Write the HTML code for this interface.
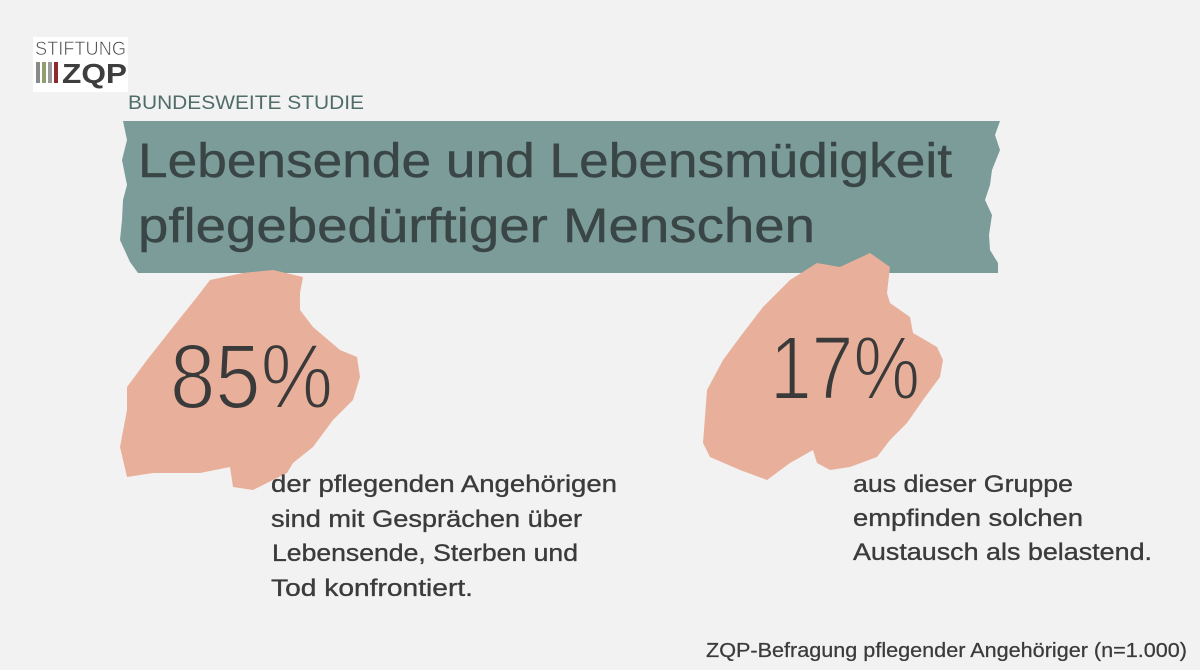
<!DOCTYPE html>
<html><head><meta charset="utf-8">
<style>
html,body{margin:0;padding:0;background:#f2f2f2;}
svg{display:block;}
text{font-family:"Liberation Sans",sans-serif;}
</style></head>
<body>
<svg width="1200" height="670" viewBox="0 0 1200 670" xmlns="http://www.w3.org/2000/svg">
<rect width="1200" height="670" fill="#f2f2f2"/>
<!-- logo -->
<rect x="33" y="37" width="95" height="55" fill="#ffffff"/>
<text x="35" y="55" font-size="19" fill="#4a4a4a" textLength="91" lengthAdjust="spacingAndGlyphs" stroke="#fff" stroke-width="0.6">STIFTUNG</text>
<rect x="36" y="62" width="4" height="21" fill="#8a8a8a"/>
<rect x="42" y="62" width="4" height="21" fill="#8fa070"/>
<rect x="48" y="62" width="4" height="21" fill="#9b9b9b"/>
<rect x="54" y="62" width="4" height="21" fill="#8c2a2e"/>
<text x="62" y="83" font-size="28" font-weight="bold" fill="#3e3e3e" textLength="65" lengthAdjust="spacingAndGlyphs">ZQP</text>
<!-- subtitle -->
<text x="128" y="109" font-size="19" fill="#4f6c69" textLength="236" lengthAdjust="spacingAndGlyphs">BUNDESWEITE STUDIE</text>
<!-- banner -->
<path d="M123,121 L1000,121 L995,135 L1000,150 L992,170 L990,185 L985,200 L992,215 L989,235 L990,250 L998,263 L998,273 L138,273 L130,262 L120,240 L122,220 L123,200 L127,185 L122,160 L127,140 Z" fill="#7b9c99"/>
<text x="138" y="177" font-size="48" fill="#3a4646" stroke="#3a4646" stroke-width="0.4" textLength="814" lengthAdjust="spacingAndGlyphs">Lebensende und Lebensmüdigkeit</text>
<text x="138" y="242" font-size="48" fill="#3a4646" stroke="#3a4646" stroke-width="0.4" textLength="677" lengthAdjust="spacingAndGlyphs">pflegebedürftiger Menschen</text>
<!-- left blob -->
<path d="M210,280 L243,273 L273,270 L303,277 L300,293 L300,310 L313,327 L340,350 L357,357 L360,377 L353,400 L333,420 L313,447 L293,463 L287,473 L253,490 L233,487 L230,467 L200,473 L153,473 L127,477 L120,447 L127,410 L127,387 L147,360 L173,327 L197,297 Z" fill="#e8b09b"/>
<!-- right blob -->
<path d="M790,280 L817,263 L840,267 L870,253 L890,267 L887,293 L890,303 L910,317 L913,333 L937,347 L943,360 L940,377 L923,400 L907,423 L890,440 L877,457 L850,467 L830,470 L817,463 L813,450 L790,463 L767,480 L740,470 L710,457 L703,443 L707,390 L723,360 L740,337 L763,307 Z" fill="#e8b09b"/>
<!-- big numbers -->
<text x="170" y="408" font-size="92" fill="#3a3a3a" stroke="#e8b09b" stroke-width="2" textLength="163" lengthAdjust="spacingAndGlyphs">85%</text>
<text x="770" y="399" font-size="90" fill="#3a3a3a" stroke="#e8b09b" stroke-width="2" textLength="150" lengthAdjust="spacingAndGlyphs">17%</text>
<!-- body text left -->
<g font-size="24" fill="#3b3b3b" stroke="#3b3b3b" stroke-width="0.35">
<text x="271" y="492" textLength="346" lengthAdjust="spacingAndGlyphs">der pflegenden Angehörigen</text>
<text x="271" y="527" textLength="311" lengthAdjust="spacingAndGlyphs">sind mit Gesprächen über</text>
<text x="272" y="561" textLength="306" lengthAdjust="spacingAndGlyphs">Lebensende, Sterben und</text>
<text x="271" y="596" textLength="202" lengthAdjust="spacingAndGlyphs">Tod konfrontiert.</text>
</g>
<!-- body text right -->
<g font-size="24" fill="#3b3b3b" stroke="#3b3b3b" stroke-width="0.35">
<text x="853" y="492" textLength="220" lengthAdjust="spacingAndGlyphs">aus dieser Gruppe</text>
<text x="853" y="526" textLength="230" lengthAdjust="spacingAndGlyphs">empfinden solchen</text>
<text x="853" y="560" textLength="299" lengthAdjust="spacingAndGlyphs">Austausch als belastend.</text>
</g>
<!-- footer -->
<text x="706" y="657" font-size="20" fill="#3b3b3b" stroke="#3b3b3b" stroke-width="0.25" textLength="481" lengthAdjust="spacingAndGlyphs">ZQP-Befragung pflegender Angehöriger (n=1.000)</text>
</svg>
</body></html>
